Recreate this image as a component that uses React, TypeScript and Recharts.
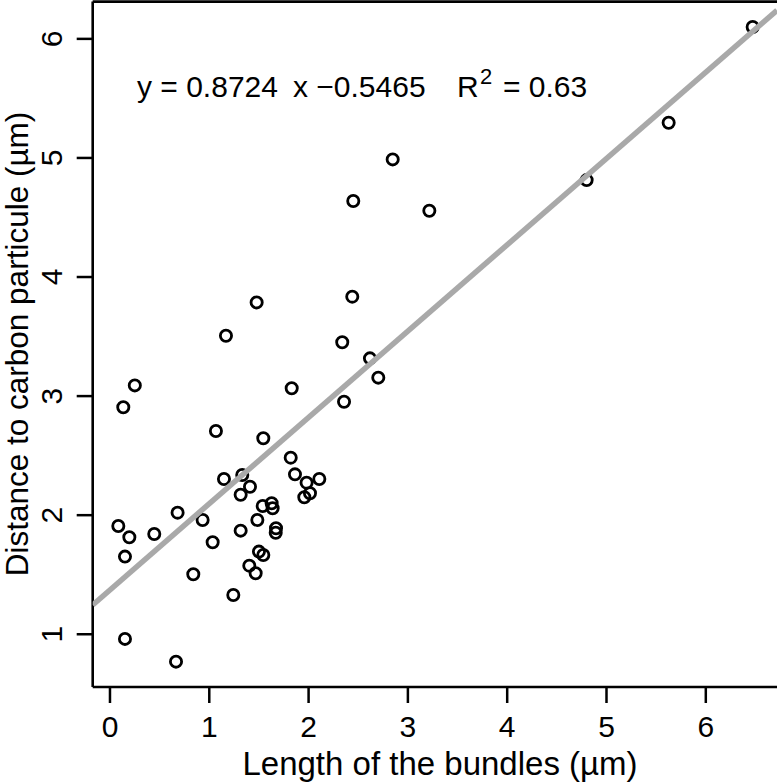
import React from 'react';
import { ScatterChart, Scatter, XAxis, YAxis, Customized } from 'recharts';

// bundle length (µm) vs distance to carbon particle (µm)
const lengths = [
  0.25, 0.134, 1.83, 2.357, 1.067, 1.544, 1.82, 1.863, 1.98, 2.108,
  2.014, 1.957, 1.148, 1.332, 1.41, 1.316, 1.538, 1.628, 1.638, 1.484,
  1.672, 1.669, 1.316, 0.933, 0.681, 1.034, 0.446, 0.084, 0.195, 0.151,
  0.839, 1.5, 1.544, 1.403, 1.467, 1.242, 0.151, 0.665, 2.45, 3.216,
  1.477, 2.44, 1.168, 2.339, 2.618, 2.702, 2.847, 4.8, 5.626, 6.472,
];
const distances = [
  3.09, 2.906, 3.066, 2.953, 2.707, 2.646, 2.483, 2.343, 2.273, 2.304,
  2.184, 2.15, 2.304, 2.338, 2.239, 2.172, 2.077, 2.1, 2.058, 1.96,
  1.89, 1.853, 1.87, 1.96, 2.021, 1.773, 1.842, 1.909, 1.814, 1.652,
  1.504, 1.694, 1.666, 1.576, 1.512, 1.33, 0.961, 0.77, 4.638, 4.557,
  3.787, 3.835, 3.507, 3.452, 3.317, 3.155, 4.988, 4.814, 5.296, 6.1,
];

// end points of the grey regression line as drawn
const fitX = [-0.174, 6.717];
const fitY = [1.246, 6.24];

const xTicks = [0, 1, 2, 3, 4, 5, 6];
const yTicks = [1, 2, 3, 4, 5, 6];

const xDomain = [-0.174, 6.717];
const yDomain = [0.557, 6.313];

const points = lengths.map((x, i) => ({ x, y: distances[i] }));
const fitLine = fitX.map((x, i) => ({ x, y: fitY[i] }));

const FONT = '"Liberation Sans", Arial, sans-serif';
const FS = 30;
const frame = { stroke: '#000', strokeWidth: 2.6 };

const OpenCircle = (props: any) => (
  <circle cx={props.cx} cy={props.cy} r={5.6} fill="none" stroke="#000" strokeWidth={2.8} />
);

const XTick = (props: any) => (
  <text x={props.x} y={737} textAnchor="middle" fontSize={FS} fontFamily={FONT} fill="#000">
    {props.payload.value}
  </text>
);

const YTick = (props: any) => (
  <text
    x={62}
    y={props.y}
    textAnchor="middle"
    fontSize={FS}
    fontFamily={FONT}
    fill="#000"
    transform={`rotate(-90, 62, ${props.y})`}
  >
    {props.payload.value}
  </text>
);

const Annotations = () => (
  <g fontFamily={FONT} fill="#000">
    <text x={137} y={97} fontSize={30}>y = 0.8724</text>
    <text x={293} y={97} fontSize={30}>x −0.5465</text>
    <text x={457} y={97} fontSize={30}>R</text>
    <text x={480} y={84} fontSize={22}>2</text>
    <text x={503} y={97} fontSize={30}>= 0.63</text>
    <text x={440} y={775} fontSize={33} textAnchor="middle">Length of the bundles (µm)</text>
    <text x={28} y={344} fontSize={31.5} textAnchor="middle" transform="rotate(-90, 28, 344)">
      Distance to carbon particule (µm)
    </text>
  </g>
);

export default function App() {
  return (
    <div style={{ position: 'fixed', left: 0, top: 0, width: 780, height: 782, background: '#fff' }}>
      <ScatterChart width={780} height={782} margin={{ top: 0, right: 3, bottom: 0, left: 0 }}>
        <XAxis
          type="number"
          dataKey="x"
          domain={xDomain}
          ticks={xTicks}
          allowDataOverflow
          height={95}
          axisLine={frame}
          tickLine={{ stroke: '#000', strokeWidth: 2.5 }}
          tickSize={16}
          tick={<XTick />}
        />
        <XAxis
          xAxisId="top"
          orientation="top"
          type="number"
          dataKey="x"
          domain={xDomain}
          allowDataOverflow
          height={1.6}
          axisLine={frame}
          tickLine={false}
          tick={false}
        />
        <YAxis
          type="number"
          dataKey="y"
          domain={yDomain}
          ticks={yTicks}
          allowDataOverflow
          width={92.7}
          axisLine={frame}
          tickLine={{ stroke: '#000', strokeWidth: 2.5 }}
          tickSize={16}
          tick={<YTick />}
        />
        <YAxis
          yAxisId="right"
          orientation="right"
          type="number"
          dataKey="y"
          domain={yDomain}
          allowDataOverflow
          width={0}
          axisLine={frame}
          tickLine={false}
          tick={false}
        />
        <Scatter data={points} shape={<OpenCircle />} isAnimationActive={false} />
        <Scatter
          data={fitLine}
          line={{ stroke: '#a9a9a9', strokeWidth: 5.5 }}
          shape={() => <g />}
          isAnimationActive={false}
        />
        <Customized component={<Annotations />} />
      </ScatterChart>
    </div>
  );
}
